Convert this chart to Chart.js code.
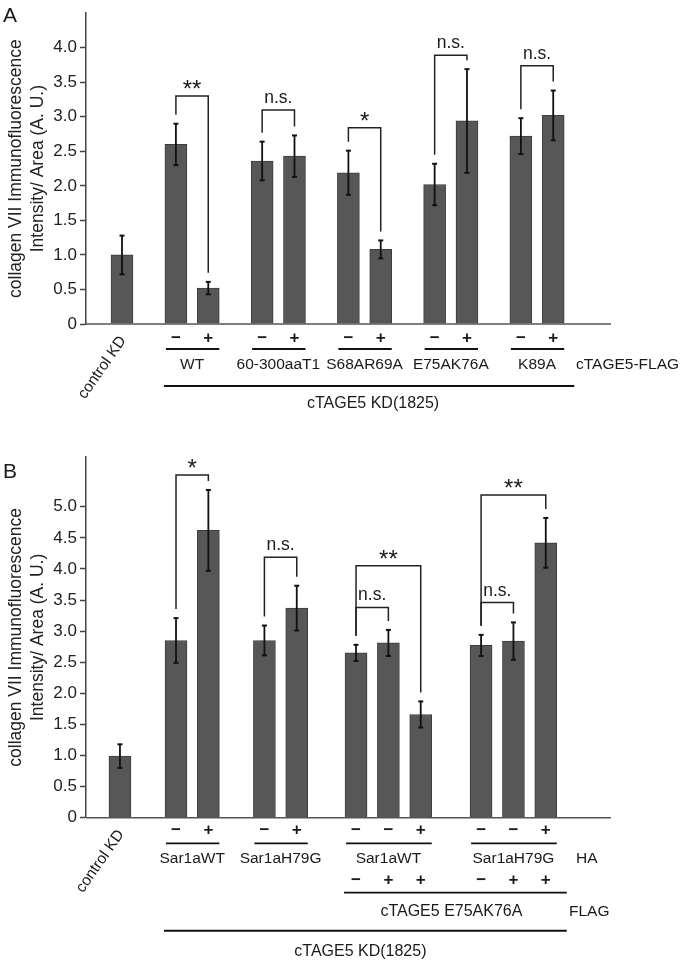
<!DOCTYPE html>
<html>
<head>
<meta charset="utf-8">
<script src="https://cdn.jsdelivr.net/npm/chart.js@4.4.0/dist/chart.umd.min.js"></script>
<style>
  html, body { margin: 0; padding: 0; background: #fff; }
  #wrap { position: relative; width: 683px; height: 960px; }
  canvas { position: absolute; left: 0; }
</style>
</head>
<body>
<div id="wrap">
  <canvas id="chartA" width="683" height="440" style="top:0"></canvas>
  <canvas id="chartB" width="683" height="520" style="top:440px"></canvas>
</div>
<script>
const FONT = '"Liberation Sans", Arial, Helvetica, sans-serif';
const INK = '#1a1a1a';

// ---- panel A data ----
const aGroups = ["control KD", "WT", "60-300aaT1", "S68AR69A", "E75AK76A", "K89A"];
const aGroupOf = [0, 1, 1, 2, 2, 3, 3, 4, 4, 5, 5];
const aFlag = ["", "−", "+", "−", "+", "−", "+", "−", "+", "−", "+"];
const aMeans = [1.00, 2.60, 0.52, 2.36, 2.43, 2.19, 1.08, 2.02, 2.94, 2.72, 3.02];
const aErrors = [0.28, 0.30, 0.09, 0.28, 0.30, 0.32, 0.13, 0.30, 0.75, 0.26, 0.36];
// [from bar, to bar, label, bracket height]
const aSig = [[1, 2, "**", 3.30], [3, 4, "n.s.", 3.10], [5, 6, "*", 2.84], [7, 8, "n.s.", 3.89], [9, 10, "n.s.", 3.74]];
const aYTicks = [0, 0.5, 1.0, 1.5, 2.0, 2.5, 3.0, 3.5, 4.0];

// ---- panel B data ----
const bGroups = ["control KD", "Sar1aWT", "Sar1aH79G", "Sar1aWT", "Sar1aH79G"];
const bGroupOf = [0, 1, 1, 2, 2, 3, 3, 3, 4, 4, 4];
const bHA = ["", "−", "+", "−", "+", "−", "−", "+", "−", "−", "+"];
const bFLAG = ["", "", "", "", "", "−", "+", "+", "−", "+", "+"];
const bMeans = [0.99, 2.85, 4.62, 2.85, 3.37, 2.65, 2.81, 1.66, 2.77, 2.84, 4.42];
const bErrors = [0.19, 0.36, 0.65, 0.24, 0.36, 0.13, 0.21, 0.21, 0.17, 0.30, 0.40];
const bSig = [[1, 2, "*", 5.51], [3, 4, "n.s.", 4.19], [5, 7, "**", 4.05], [5, 6, "n.s.", 3.38], [8, 10, "**", 5.19], [8, 9, "n.s.", 3.46]];
const bYTicks = [0, 0.5, 1.0, 1.5, 2.0, 2.5, 3.0, 3.5, 4.0, 4.5, 5.0];

const yTitle = ["collagen VII Immunofluorescence", "Intensity/ Area (A. U.)"];

// bar slots: 3 units inside a group, wider gaps between groups
function slotPositions(groupOf, gaps) {
    let pos = [], x = 0;
    for (let i = 0; i < groupOf.length; i++) {
        if (i > 0) x += groupOf[i] === groupOf[i - 1] ? 3 : gaps[groupOf[i] - 1];
        pos.push(x);
    }
    return pos;
}

function seg(ctx, x1, y1, x2, y2) {
    ctx.beginPath(); ctx.moveTo(x1, y1); ctx.lineTo(x2, y2); ctx.stroke();
}

function text(ctx, s, x, y, size, align, weight) {
    ctx.font = (weight || '') + ' ' + size + 'px ' + FONT;
    ctx.textAlign = align || 'center';
    ctx.textBaseline = 'middle';
    ctx.fillText(s, x, y);
}

function annotate(p, xs) {
    return {
        id: 'annot',
        afterDraw(chart) {
            const ctx = chart.ctx, xS = chart.scales.x, yS = chart.scales.y, area = chart.chartArea;
            const px = i => xS.getPixelForValue(xs[i]);
            const half = 11;
            const base = yS.getPixelForValue(0);
            ctx.save();
            ctx.fillStyle = INK;
            ctx.strokeStyle = INK;

            // baseline
            ctx.strokeStyle = '#555'; ctx.lineWidth = 1.5;
            seg(ctx, area.left, base, area.right, base);

            // error bars
            ctx.strokeStyle = '#111';
            p.means.forEach((m, i) => {
                const x = px(i);
                const t = yS.getPixelForValue(m + p.errors[i]);
                const b = yS.getPixelForValue(m - p.errors[i]);
                ctx.lineWidth = 1.8; seg(ctx, x, t, x, b);
                ctx.lineWidth = 2; seg(ctx, x - 2.5, t, x + 2.5, t); seg(ctx, x - 2.5, b, x + 2.5, b);
            });

            // significance brackets
            ctx.strokeStyle = '#222'; ctx.lineWidth = 1.5;
            p.sig.forEach(([a, b, label, level]) => {
                const top = yS.getPixelForValue(level);
                const la = yS.getPixelForValue(p.means[a] + p.errors[a]) - 9;
                const lb = yS.getPixelForValue(p.means[b] + p.errors[b]) - 9;
                ctx.beginPath();
                ctx.moveTo(px(a), la); ctx.lineTo(px(a), top); ctx.lineTo(px(b), top); ctx.lineTo(px(b), lb);
                ctx.stroke();
                const cx = (px(a) + px(b)) / 2;
                ctx.textBaseline = 'alphabetic'; ctx.textAlign = 'center';
                if (label === "n.s.") {
                    ctx.font = '17.5px ' + FONT; ctx.fillText(label, cx, top - 7);
                } else {
                    ctx.font = '24px ' + FONT; ctx.fillText(label, cx, top + 1);
                }
            });

            // control label, rotated
            ctx.save();
            ctx.translate(px(0) + 1, base + 14);
            ctx.rotate(-55 * Math.PI / 180);
            text(ctx, p.groups[0], 0, 0, 15.5, 'right');
            ctx.restore();

            // sign rows, underlines and group names
            const groupBars = g => p.groupOf.map((v, i) => v === g ? i : -1).filter(i => i >= 0);
            p.rows.forEach(r => {
                r.signs.forEach((s, i) => { if (s) text(ctx, s, px(i), base + r.dy, 17, 'center', 'bold'); });
            });
            ctx.lineWidth = 1.8; ctx.strokeStyle = '#111';
            for (let g = 1; g < p.groups.length; g++) {
                const bars = groupBars(g);
                const l = px(bars[0]) - half + 1, rr = px(bars[bars.length - 1]) + half;
                seg(ctx, l, base + p.lineDy, rr, base + p.lineDy);
                text(ctx, p.groups[g], (px(bars[0]) + px(bars[bars.length - 1])) / 2, base + p.labelDy, 15.5);
            }
            p.names.forEach(n => text(ctx, n.text, area.right + n.dx, base + n.dy, 15.5, 'left'));

            // spanning lines (FLAG construct, knockdown)
            p.spans.forEach(s => {
                const l = px(s.from) - half - 1, rr = px(s.to) + half + 10;
                ctx.lineWidth = s.width;
                seg(ctx, l, base + s.dy, rr, base + s.dy);
                text(ctx, s.text, (l + rr) / 2 + s.shift, base + s.textDy, 16);
            });

            // panel letter
            ctx.font = '21px ' + FONT; ctx.textAlign = 'left'; ctx.textBaseline = 'alphabetic';
            ctx.fillText(p.letter, 3, p.letterY);
            ctx.restore();
        }
    };
}

function makeChart(id, p) {
    const xs = slotPositions(p.groupOf, p.gaps);
    return new Chart(id, {
        type: 'bar',
        data: {
            datasets: [{
                data: p.means.map((m, i) => ({ x: xs[i], y: m })),
                backgroundColor: '#575757',
                borderColor: '#3c3c3c',
                borderWidth: 1,
                barThickness: 22
            }]
        },
        options: {
            responsive: false,
            animation: false,
            events: [],
            layout: { padding: { left: 0, right: 72, top: p.padTop, bottom: p.padBottom } },
            plugins: { legend: { display: false }, tooltip: { enabled: false } },
            scales: {
                x: { type: 'linear', display: false, offset: false, min: p.xMin, max: p.xMax },
                y: {
                    min: 0, max: p.yMax,
                    afterFit: s => { s.width = 86; },
                    afterBuildTicks: s => { s.ticks = p.yTicks.map(v => ({ value: v })); },
                    border: { color: '#444', width: 1.5 },
                    grid: { drawOnChartArea: false, drawTicks: true, tickLength: 6, tickColor: '#444', tickWidth: 1.5 },
                    ticks: {
                        padding: 3, color: '#222',
                        font: { family: FONT, size: 17 },
                        callback: v => v === 0 ? '0' : v.toFixed(1)
                    },
                    title: {
                        display: true, text: yTitle, color: '#222',
                        font: { family: FONT, size: 17.5, lineHeight: '22px' },
                        padding: { top: 5, bottom: 0 }
                    }
                }
            }
        },
        plugins: [annotate(p, xs)]
    });
}

makeChart('chartA', {
    letter: 'A', letterY: 22,
    groups: aGroups, groupOf: aGroupOf, means: aMeans, errors: aErrors, sig: aSig, yTicks: aYTicks,
    gaps: [5, 5, 5, 5, 5], xMin: -3.34, xMax: 45.36, yMax: 4.5, padTop: 8, padBottom: 116,
    rows: [{ signs: aFlag, dy: 14 }],
    lineDy: 25, labelDy: 41,
    names: [{ text: 'cTAGE5-FLAG', dx: -35, dy: 41 }],
    spans: [{ from: 1, to: 10, dy: 62, textDy: 80, width: 2, text: 'cTAGE5 KD(1825)', shift: 4 }]
});

makeChart('chartB', {
    letter: 'B', letterY: 38,
    groups: bGroups, groupOf: bGroupOf, means: bMeans, errors: bErrors, sig: bSig, yTicks: bYTicks,
    gaps: [5.2, 5.2, 5.5, 5.6], xMin: -3.15, xMax: 45.55, yMax: 5.8, padTop: 17, padBottom: 142.3,
    rows: [{ signs: bHA, dy: 13 }, { signs: bFLAG, dy: 63 }],
    lineDy: 25.6, labelDy: 40.6,
    names: [{ text: 'HA', dx: -35, dy: 40.6 }, { text: 'FLAG', dx: -42, dy: 94 }],
    spans: [
        { from: 5, to: 10, dy: 75, textDy: 94, width: 1.8, text: 'cTAGE5 E75AK76A', shift: -4 },
        { from: 1, to: 10, dy: 113, textDy: 134, width: 2, text: 'cTAGE5 KD(1825)', shift: -5 }
    ]
});
</script>
</body>
</html>
